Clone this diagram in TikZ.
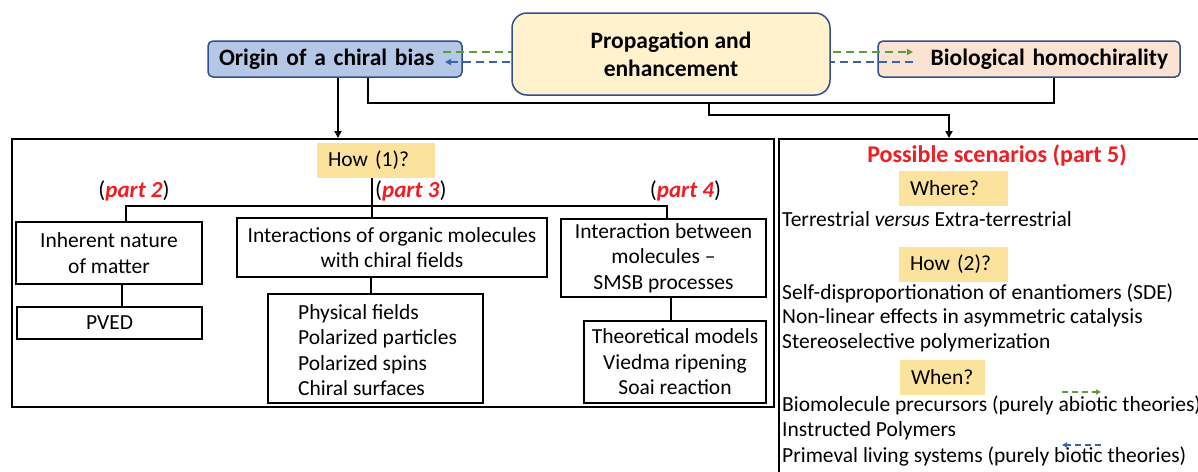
\documentclass[tikz,border=0pt]{standalone}
\usepackage{fontspec}
\setmainfont{Carlito}
\usetikzlibrary{arrows.meta,calc}
\definecolor{navy}{HTML}{2F4F8F}
\definecolor{originfill}{HTML}{B4C7E7}
\definecolor{propfill}{HTML}{FFF2CC}
\definecolor{biofill}{HTML}{FBE3D4}
\definecolor{hlyellow}{HTML}{FBE29D}
\definecolor{partred}{HTML}{F01E23}
\definecolor{dgreen}{HTML}{5E9B3F}
\definecolor{dblue}{HTML}{3A62AD}
\newcommand{\txt}{\fontsize{21.5}{25.5}\selectfont}
\newcommand{\parttxt}[1]{(\textcolor{partred}{\textbf{\textit{#1}}})}
\begin{document}
\begin{tikzpicture}[x=1pt,y=-1pt,
  topbox/.style={draw=navy, line width=1.5pt, rounded corners=5pt, font=\fontsize{23.5}{28}\selectfont\bfseries, minimum height=36pt, inner ysep=0pt},
  plainbox/.style={draw, line width=1.3pt, font=\txt, align=center, inner sep=0pt},
  hl/.style={fill=hlyellow, font=\txt, align=left, inner xsep=11pt, inner ysep=0pt, minimum height=35pt},
  item/.style={anchor=west, inner sep=0pt, font=\txt},
  conn/.style={line width=1.8pt},
  treeline/.style={line width=2.6pt},
  tip/.style={-{Triangle[length=7pt,width=7pt]}},
  dashg/.style={draw=dgreen, line width=1.5pt, dash pattern=on 8pt off 5pt},
  dashb/.style={draw=dblue, line width=1.5pt, dash pattern=on 8pt off 5pt}
]
\useasboundingbox (0,0) rectangle (1198,471);
\clip (0,0) rectangle (1198,471);
\fill[white] (0,0) rectangle (1198,471);

% top boxes
\node[topbox, fill=originfill, text width=232pt, align=left, inner xsep=11pt] (origin) at (335,59) {Origin of a chiral bias};
\node[topbox, fill=biofill, text width=278pt, align=right, inner xsep=12pt] (bio) at (1029,59) {Biological homochirality};

% dashed arrows (behind the propagation box)
\coordinate (gA) at (443,52); \coordinate (gB) at (913,52);
\coordinate (bA) at (913,62); \coordinate (bB) at (445,62);
\draw[dashg, -{Triangle[length=6pt,width=6pt]}] (gA) -- (gB);
\draw[dashb, -{Triangle[length=6pt,width=6pt]}] (bA) -- (bB);

\node[draw=navy, fill=propfill, line width=1.5pt, rounded corners=15pt, minimum width=318pt, minimum height=82pt, align=center, font=\fontsize{23.5}{28}\selectfont\bfseries, inner sep=0pt] (prop) at (671,54) {Propagation and\\enhancement};

% big boxes
\node[draw, line width=2pt, minimum width=762pt, minimum height=268pt, inner sep=0pt] (leftbox) at (393,273) {};
\node[draw, line width=2pt, minimum width=431pt, minimum height=341pt, inner sep=0pt] (rightbox) at (994.5,309.5) {};

% top connectors
\path (338,0) coordinate (c1) (368,0) coordinate (c2) (1054,0) coordinate (c3) (949,0) coordinate (c5);
\coordinate (brk) at (709,103);
\coordinate (stem) at (709,115);
\draw[conn, tip] (origin.south -| c1) -- (leftbox.north -| c1);
\draw[conn] (origin.south -| c2) |- (brk) -| (bio.south -| c3);
\draw[conn, tip] (brk) -- (stem) -| (rightbox.north -| c5);

% left content
\node[hl, text width=96pt] (how1) at (376,160.5) {How (1)?};
\node[font=\fontsize{23}{26}\selectfont, inner sep=0pt] (p2) at (134,191) {\parttxt{part 2}};
\node[font=\fontsize{23}{26}\selectfont, inner sep=0pt, anchor=west] (p3) at (375,191) {\parttxt{part 3}};
\node[font=\fontsize{23}{26}\selectfont, inner sep=0pt] (p4) at (685.5,191) {\parttxt{part 4}};

\node[plainbox, minimum width=186pt, minimum height=62pt] (box1) at (109,253) {Inherent nature\\of matter};
\node[plainbox, minimum width=185pt, minimum height=32pt] (pved) at (109.5,323) {PVED};
\node[plainbox, minimum width=310pt, minimum height=59pt] (box2) at (392,247.5) {Interactions of organic molecules\\with chiral fields};
\node[plainbox, minimum width=215pt, minimum height=109pt] (box4) at (375.5,348.5) {};
\node[item, align=left] (box4t) at (298,350) {Physical fields\\Polarized particles\\Polarized spins\\Chiral surfaces};
\node[plainbox, minimum width=205pt, minimum height=78pt] (box3) at (663.5,258) {Interaction between\\molecules --\\SMSB processes};
\node[plainbox, minimum width=182pt, minimum height=82pt] (box5) at (675,362) {Theoretical models\\Viedma ripening\\Soai reaction};

\path (372,0) coordinate (t1) (126,206) coordinate (barL) (667,206) coordinate (barR)
      (122,0) coordinate (t2) (371,0) coordinate (t3) (671,0) coordinate (t4);
\draw[treeline] (how1.south -| t1) -- (box2.north -| t1);
\draw[treeline] (box1.north -| barL) |- (barR) -- (box3.north -| barR);
\draw[treeline] (box1.south -| t2) -- (pved.north -| t2);
\draw[treeline] (box2.south -| t3) -- (box4.north -| t3);
\draw[treeline] (box3.south -| t4) -- (box5.north -| t4);

% right content
\node[font=\fontsize{24}{28}\selectfont\bfseries, text=partred, inner sep=0pt] (title) at (997,155) {Possible scenarios (part 5)};
\node[hl, text width=87pt] (where) at (953.5,188.5) {Where?};
\node[item] (l1) at (782,219) {Terrestrial \textit{versus} Extra-terrestrial};
\node[hl, text width=87pt] (how2) at (953.5,264) {How (2)?};
\node[item] (l2) at (782,293) {Self-disproportionation of enantiomers (SDE)};
\node[item] (l3) at (782,318) {Non-linear effects in asymmetric catalysis};
\node[item] (l4) at (782,343) {Stereoselective polymerization};
\node[hl, text width=63pt] (when) at (942.5,377.5) {When?};
\node[item] (l5) at (782,405) {Biomolecule precursors (purely abiotic theories)};
\node[item] (l6) at (782,431) {Instructed Polymers};
\node[item] (l7) at (782,456) {Primeval living systems (purely biotic theories)};

\coordinate (sgA) at (1062,392); \coordinate (sgB) at (1101,392);
\coordinate (sbA) at (1101,445); \coordinate (sbB) at (1062,445);
\draw[dashg, line width=1.3pt, dash pattern=on 6pt off 4pt, -{Triangle[length=5pt,width=5pt]}] (sgA) -- (sgB);
\draw[dashb, line width=1.3pt, dash pattern=on 6pt off 4pt, -{Triangle[length=5pt,width=5pt]}] (sbA) -- (sbB);
\end{tikzpicture}
\end{document}
